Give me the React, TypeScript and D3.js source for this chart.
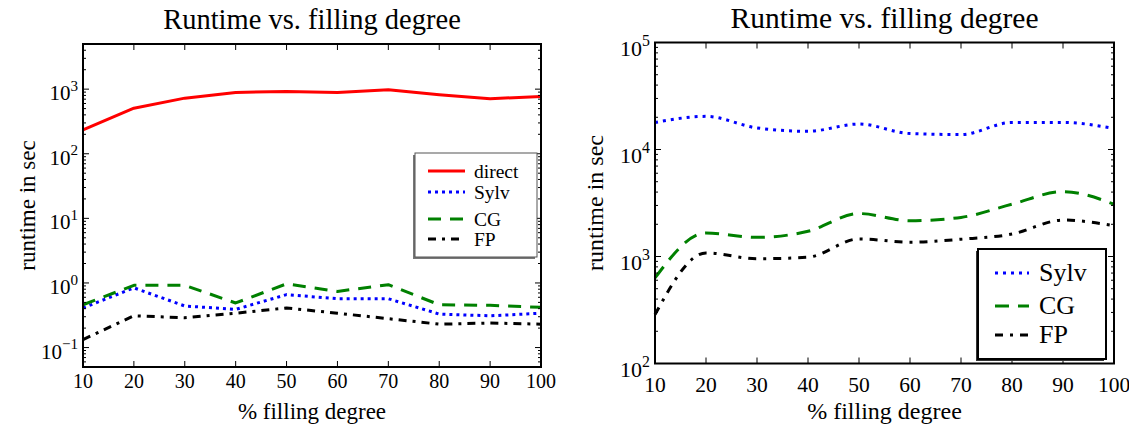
import { useEffect, useRef } from 'react';
import * as d3 from 'd3';

// % filling degree (x) for both panels
const fillDegrees = [10, 20, 30, 40, 50, 60, 70, 80, 90, 100];

// left panel, runtime in sec
const leftDirect = [235, 508, 726, 889, 921, 889, 980, 819, 710, 771];
const leftSylv = [0.41, 0.84, 0.44, 0.39, 0.66, 0.57, 0.57, 0.33, 0.31, 0.34];
const leftCG = [0.46, 0.92, 0.92, 0.49, 0.97, 0.74, 0.94, 0.46, 0.45, 0.42];
const leftFP = [0.133, 0.31, 0.29, 0.34, 0.41, 0.34, 0.28, 0.23, 0.24, 0.23];

// right panel, runtime in sec
const rightSylv = [17900, 20400, 15900, 14800, 17300, 14100, 13800, 17900, 17900, 15700];
const rightCG = [630, 1660, 1510, 1720, 2520, 2160, 2320, 3080, 4040, 3080];
const rightFP = [287, 1080, 953, 986, 1460, 1360, 1450, 1620, 2190, 1940];

const xTickValues = [10, 20, 30, 40, 50, 60, 70, 80, 90, 100];
const leftExponents = [-1, 0, 1, 2, 3];
const rightExponents = [2, 3, 4, 5];

const title = 'Runtime vs. filling degree';
const xLabel = '% filling degree';
const yLabel = 'runtime in sec';

const FONT = '"Liberation Serif", "Times New Roman", serif';

function drawPanel(svg, cfg) {
  const g = svg.append('g').attr('font-family', FONT);
  const x = d3.scaleLinear().domain([10, 100]).range([cfg.x0, cfg.x1]);
  const y = d3.scaleLog().domain(cfg.yDomain).range([cfg.y1, cfg.y0]);

  // lines
  const line = d3.line()
    .x((d, i) => x(fillDegrees[i]))
    .y(d => y(d))
    .curve(cfg.curve);

  cfg.series.forEach(s => {
    g.append('path')
      .attr('d', line(s.values))
      .attr('fill', 'none')
      .attr('stroke', s.color)
      .attr('stroke-width', 3)
      .attr('stroke-dasharray', s.dash)
      .attr('stroke-linejoin', 'round');
  });

  // ticks (inward, mirrored)
  const tk = g.append('g').attr('stroke', '#000').attr('stroke-width', 1);
  xTickValues.forEach(v => {
    tk.append('line').attr('x1', x(v)).attr('x2', x(v)).attr('y1', cfg.y1).attr('y2', cfg.y1 - 6);
    tk.append('line').attr('x1', x(v)).attr('x2', x(v)).attr('y1', cfg.y0).attr('y2', cfg.y0 + 6);
  });
  y.ticks().forEach(v => {
    const major = Math.abs(Math.log10(v) - Math.round(Math.log10(v))) < 1e-9;
    const len = major ? 6 : 3;
    tk.append('line').attr('x1', cfg.x0).attr('x2', cfg.x0 + len).attr('y1', y(v)).attr('y2', y(v));
    tk.append('line').attr('x1', cfg.x1).attr('x2', cfg.x1 - len).attr('y1', y(v)).attr('y2', y(v));
  });

  // frame
  g.append('rect')
    .attr('x', cfg.x0).attr('y', cfg.y0)
    .attr('width', cfg.x1 - cfg.x0).attr('height', cfg.y1 - cfg.y0)
    .attr('fill', 'none').attr('stroke', '#000').attr('stroke-width', 2);

  // x tick labels
  xTickValues.forEach(v => {
    g.append('text')
      .attr('x', x(v)).attr('y', cfg.xTickY)
      .attr('text-anchor', 'middle')
      .attr('font-size', cfg.tickSize)
      .text(v);
  });

  // y tick labels 10^k
  cfg.exponents.forEach(e => {
    const t = g.append('text')
      .attr('x', cfg.x0 - 5).attr('y', y(Math.pow(10, e)) + cfg.yTickDy)
      .attr('text-anchor', 'end')
      .attr('font-size', cfg.yTickSize);
    t.append('tspan').text('10');
    t.append('tspan')
      .attr('dy', -cfg.yTickSize * 0.45)
      .attr('font-size', cfg.yTickSize * 0.72)
      .text(e < 0 ? '\u2212' + Math.abs(e) : String(e));
  });

  // titles
  g.append('text')
    .attr('x', (cfg.x0 + cfg.x1) / 2).attr('y', cfg.titleY)
    .attr('text-anchor', 'middle')
    .attr('font-size', cfg.titleSize)
    .text(title);

  g.append('text')
    .attr('x', (cfg.x0 + cfg.x1) / 2).attr('y', cfg.xLabelY)
    .attr('text-anchor', 'middle')
    .attr('font-size', cfg.labelSize)
    .text(xLabel);

  g.append('text')
    .attr('transform', `translate(${cfg.yLabelX},${(cfg.y0 + cfg.y1) / 2}) rotate(-90)`)
    .attr('text-anchor', 'middle')
    .attr('font-size', cfg.labelSize)
    .text(yLabel);

  // legend
  const L = cfg.legend;
  g.append('rect')
    .attr('x', L.x - 2).attr('y', L.y + 2)
    .attr('width', L.w).attr('height', L.h)
    .attr('fill', L.shadow);
  g.append('rect')
    .attr('x', L.x).attr('y', L.y)
    .attr('width', L.w).attr('height', L.h)
    .attr('fill', '#fff').attr('stroke', L.border).attr('stroke-width', L.borderWidth);

  cfg.series.forEach((s, i) => {
    const ry = L.y + L.rows[i];
    g.append('line')
      .attr('x1', L.x + L.lineX0).attr('x2', L.x + L.lineX1)
      .attr('y1', ry).attr('y2', ry)
      .attr('stroke', s.color).attr('stroke-width', 3)
      .attr('stroke-dasharray', s.dash);
    g.append('text')
      .attr('x', L.x + L.textX).attr('y', ry + L.textDy)
      .attr('font-size', L.fontSize)
      .text(s.name);
  });
}

export default function App() {
  const svgRef = useRef(null);

  useEffect(() => {
    const svg = d3.select(svgRef.current);
    svg.selectAll('*').remove();

    drawPanel(svg, {
      x0: 83, x1: 541, y0: 44, y1: 367,
      yDomain: [0.05, 5000],
      exponents: leftExponents,
      curve: d3.curveLinear,
      tickSize: 20, yTickSize: 21, titleSize: 28.5, labelSize: 23,
      xTickY: 388, yTickDy: 11, titleY: 29, xLabelY: 419, yLabelX: 35,
      series: [
        { name: 'direct', values: leftDirect, color: '#ff0000', dash: null },
        { name: 'Sylv', values: leftSylv, color: '#0000ff', dash: '3,4' },
        { name: 'CG', values: leftCG, color: '#008000', dash: '13,9' },
        { name: 'FP', values: leftFP, color: '#000000', dash: '8,6,3,6' },
      ],
      legend: {
        x: 415, y: 153, w: 122, h: 104,
        shadow: '#777', border: '#555', borderWidth: 1,
        rows: [18, 39, 66, 86],
        lineX0: 13, lineX1: 50, textX: 59, textDy: 7, fontSize: 19.5,
      },
    });

    drawPanel(svg, {
      x0: 655, x1: 1114, y0: 42.5, y1: 363.5,
      yDomain: [100, 100000],
      exponents: rightExponents,
      curve: d3.curveMonotoneX,
      tickSize: 21.5, yTickSize: 22, titleSize: 29.5, labelSize: 24,
      xTickY: 392, yTickDy: 13, titleY: 28, xLabelY: 419, yLabelX: 603,
      series: [
        { name: 'Sylv', values: rightSylv, color: '#0000ff', dash: '3,5' },
        { name: 'CG', values: rightCG, color: '#008000', dash: '14,9' },
        { name: 'FP', values: rightFP, color: '#000000', dash: '8,7,3,7' },
      ],
      legend: {
        x: 978, y: 249, w: 128, h: 110,
        shadow: '#333', border: '#000', borderWidth: 2,
        rows: [24, 57, 86],
        lineX0: 17, lineX1: 51, textX: 61, textDy: 8, fontSize: 26,
      },
    });
  }, []);

  return (
    <div style={{ position: 'absolute', left: 0, top: 0 }}>
      <svg ref={svgRef} width={1129} height={425} style={{ display: 'block' }}></svg>
    </div>
  );
}
